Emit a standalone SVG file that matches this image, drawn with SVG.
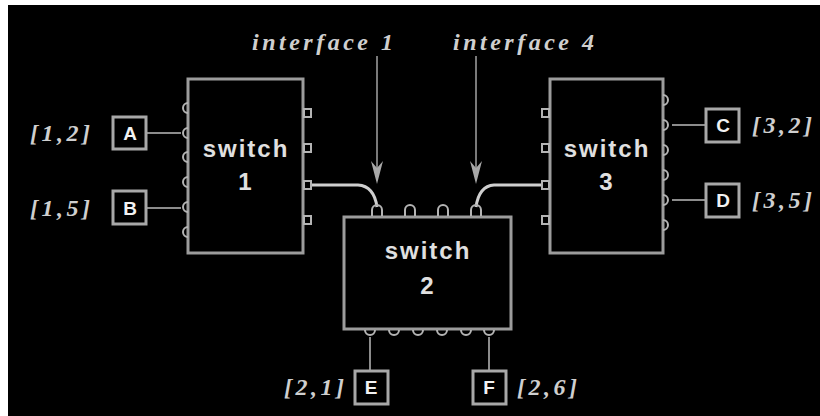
<svg xmlns="http://www.w3.org/2000/svg" width="820" height="416" viewBox="0 0 820 416">
<style>
.sw{fill:#000;stroke:#9c9c9c;stroke-width:3}
.port{fill:none;stroke:#b4b4b4;stroke-width:2}
.ep{fill:#000;stroke:#a8a8a8;stroke-width:3}
.eptxt{font-family:"Liberation Sans",Arial,sans-serif;font-weight:bold;font-size:19px;fill:#f2f2f2;text-anchor:middle}
.swtxt{font-family:"Liberation Sans",Arial,sans-serif;font-weight:bold;font-size:24px;fill:#e0e0e0;text-anchor:middle;letter-spacing:2px}
.lbl{font-family:"Liberation Serif","Times New Roman",serif;font-style:italic;font-weight:bold;font-size:24px;fill:#cfcfcf;letter-spacing:3.5px}
.link{fill:none;stroke:#8c8c8c;stroke-width:2}
.wire{fill:none;stroke:#cfcfcf;stroke-width:3}
.arr{fill:none;stroke:#7a7a7a;stroke-width:2}
.head{fill:#a8a8a8}
</style>
<rect x="0" y="0" width="820" height="416" fill="#fff"/>
<rect x="8" y="5" width="812" height="411" fill="#000"/>

<g id="connectors">
<path class="link" d="M147,133 H181"/>
<path class="link" d="M147,208 H181"/>
<path class="link" d="M672,125 H705"/>
<path class="link" d="M672,200 H705"/>
<path class="link" d="M370,337 V370"/>
<path class="link" d="M489,337 V370"/>
<path class="wire" d="M311,185 H358 Q374,186 377,207"/>
<path class="wire" d="M541,185 H494 Q479,186 476,207"/>
<path class="arr" d="M377,56 V170"/>
<path class="arr" d="M476,56 V170"/>
<polygon class="head" points="371,161 377,168 383,161 377,184"/>
<polygon class="head" points="470,161 476,168 482,161 476,184"/>
</g>

<g id="switch1">
<rect class="sw" x="188" y="79" width="115" height="174"/>
<g class="port">
<path d="M188,103 A5,5 0 0 0 188,113"/>
<path d="M188,128 A5,5 0 0 0 188,138"/>
<path d="M188,152 A5,5 0 0 0 188,162"/>
<path d="M188,177 A5,5 0 0 0 188,187"/>
<path d="M188,202 A5,5 0 0 0 188,212"/>
<path d="M188,227 A5,5 0 0 0 188,237"/>
<rect x="304" y="109" width="7" height="8"/>
<rect x="304" y="144" width="7" height="8"/>
<rect x="304" y="181" width="7" height="8"/>
<rect x="304" y="216" width="7" height="8"/>
</g>
<text class="swtxt" x="246" y="157">switch</text>
<text class="swtxt" x="246" y="190">1</text>
</g>

<g id="switch2">
<rect class="sw" x="344" y="217" width="167" height="112"/>
<g class="port">
<path d="M372,216 V210 A5,5 0 0 1 382,210 V216"/>
<path d="M405,216 V210 A5,5 0 0 1 415,210 V216"/>
<path d="M438,216 V210 A5,5 0 0 1 448,210 V216"/>
<path d="M471,216 V210 A5,5 0 0 1 481,210 V216"/>
<path d="M365,330 A5,5 0 0 0 375,330"/>
<path d="M389,330 A5,5 0 0 0 399,330"/>
<path d="M413,330 A5,5 0 0 0 423,330"/>
<path d="M437,330 A5,5 0 0 0 447,330"/>
<path d="M461,330 A5,5 0 0 0 471,330"/>
<path d="M484,330 A5,5 0 0 0 494,330"/>
</g>
<text class="swtxt" x="428" y="259">switch</text>
<text class="swtxt" x="428" y="294">2</text>
</g>

<g id="switch3">
<rect class="sw" x="550" y="79" width="113" height="174"/>
<g class="port">
<rect x="542" y="109" width="7" height="8"/>
<rect x="542" y="144" width="7" height="8"/>
<rect x="542" y="181" width="7" height="8"/>
<rect x="542" y="216" width="7" height="8"/>
<path d="M663,95 A5,5 0 0 1 663,105"/>
<path d="M663,120 A5,5 0 0 1 663,130"/>
<path d="M663,145 A5,5 0 0 1 663,155"/>
<path d="M663,170 A5,5 0 0 1 663,180"/>
<path d="M663,195 A5,5 0 0 1 663,205"/>
<path d="M663,220 A5,5 0 0 1 663,230"/>
</g>
<text class="swtxt" x="607" y="157">switch</text>
<text class="swtxt" x="607" y="190">3</text>
</g>

<g id="A"><rect class="ep" x="113" y="117" width="33" height="32"/><text class="eptxt" x="130" y="140">A</text></g>
<g id="B"><rect class="ep" x="113" y="191" width="33" height="33"/><text class="eptxt" x="130" y="215">B</text></g>
<g id="C"><rect class="ep" x="706" y="109" width="33" height="33"/><text class="eptxt" x="723" y="132">C</text></g>
<g id="D"><rect class="ep" x="706" y="184" width="33" height="33"/><text class="eptxt" x="723" y="207">D</text></g>
<g id="E"><rect class="ep" x="355" y="371" width="33" height="33"/><text class="eptxt" x="371" y="394">E</text></g>
<g id="F"><rect class="ep" x="473" y="371" width="33" height="33"/><text class="eptxt" x="489" y="394">F</text></g>

<g id="labels">
<text class="lbl" x="30" y="141">[1,2]</text>
<text class="lbl" x="30" y="216">[1,5]</text>
<text class="lbl" x="752" y="133">[3,2]</text>
<text class="lbl" x="752" y="208">[3,5]</text>
<text class="lbl" x="284" y="395">[2,1]</text>
<text class="lbl" x="517" y="395">[2,6]</text>
<text class="lbl" x="252" y="50">interface 1</text>
<text class="lbl" x="453" y="50">interface 4</text>
</g>
</svg>
